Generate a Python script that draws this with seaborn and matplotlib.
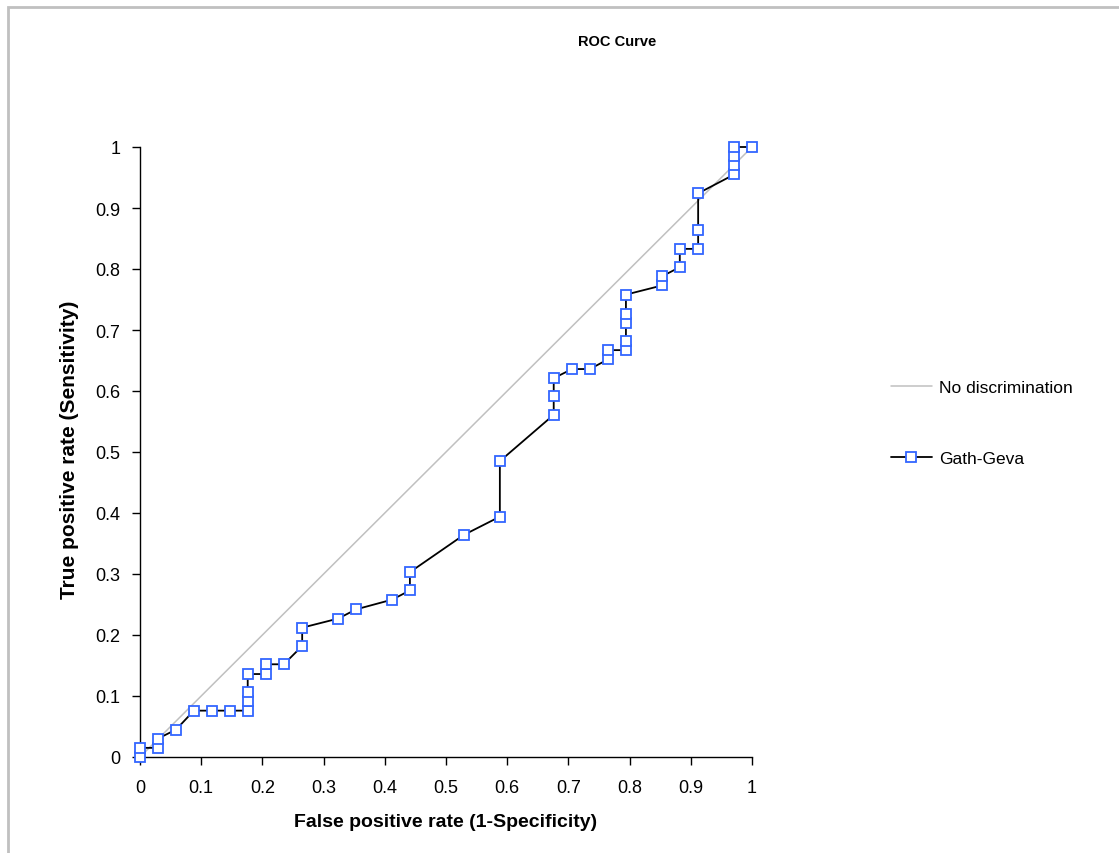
import matplotlib
matplotlib.use("Agg")
import matplotlib.pyplot as plt
import seaborn as sns
import pandas as pd
from matplotlib.lines import Line2D
from matplotlib.patches import Rectangle

# ROC points
fpr = [0.0, 0.0, 0.029, 0.029, 0.059, 0.088, 0.118, 0.147, 0.176, 0.176,
       0.176, 0.176, 0.206, 0.206, 0.235, 0.265, 0.265, 0.324, 0.353, 0.412,
       0.441, 0.441, 0.529, 0.588, 0.588, 0.676, 0.676, 0.676, 0.706, 0.735,
       0.765, 0.765, 0.794, 0.794, 0.794, 0.794, 0.794, 0.853, 0.853, 0.882,
       0.882, 0.912, 0.912, 0.912, 0.971, 0.971, 0.971, 0.971, 1.0]
tpr = [0.0, 0.015, 0.015, 0.030, 0.045, 0.076, 0.076, 0.076, 0.076, 0.091,
       0.106, 0.136, 0.136, 0.152, 0.152, 0.182, 0.212, 0.227, 0.242, 0.258,
       0.273, 0.303, 0.364, 0.394, 0.485, 0.561, 0.591, 0.621, 0.636, 0.636,
       0.652, 0.667, 0.667, 0.682, 0.712, 0.727, 0.758, 0.773, 0.788, 0.803,
       0.833, 0.833, 0.864, 0.924, 0.955, 0.970, 0.985, 1.0, 1.0]
diag = [0.0, 1.0]
ticks = [0, 0.1, 0.2, 0.3, 0.4, 0.5, 0.6, 0.7, 0.8, 0.9, 1]
tick_labels = ["0", "0.1", "0.2", "0.3", "0.4", "0.5", "0.6", "0.7", "0.8", "0.9", "1"]

sns.set_style("white")
plt.rcParams["font.family"] = ["Liberation Sans", "DejaVu Sans"]
plt.rcParams["text.color"] = "black"
plt.rcParams["axes.labelcolor"] = "black"
plt.rcParams["xtick.color"] = "black"
plt.rcParams["ytick.color"] = "black"

df = pd.DataFrame({"fpr": fpr, "tpr": tpr})

fig = plt.figure(figsize=(11.19, 8.54), dpi=100)
ax = fig.add_axes([140 / 1119, 1 - 758 / 854, 612 / 1119, 610 / 854])

# diagonal reference line
sns.lineplot(x=diag, y=diag, ax=ax, color="#c0c0c0", linewidth=1.1)

# ROC curve (no aggregation of repeated x values)
sns.lineplot(data=df, x="fpr", y="tpr", ax=ax, sort=False, estimator=None,
             color="black", linewidth=1.3, marker="s", markersize=6.5,
             markerfacecolor="white", markeredgecolor="#3366ff",
             markeredgewidth=1.3, clip_on=False, zorder=3)

ax.set_xlim(0, 1)
ax.set_ylim(0, 1)
ax.set_xticks(ticks)
ax.set_xticklabels(tick_labels)
ax.set_yticks(ticks)
ax.set_yticklabels(tick_labels)
ax.tick_params(axis="both", direction="out", length=6, width=1, color="black",
               labelsize=13, left=True, bottom=True)
ax.tick_params(axis="x", pad=10)
ax.tick_params(axis="y", pad=8)
for s in ["top", "right"]:
    ax.spines[s].set_visible(False)
for s in ["left", "bottom"]:
    ax.spines[s].set_color("black")
    ax.spines[s].set_linewidth(1)

ax.set_xlabel("False positive rate (1-Specificity)", fontsize=14,
              fontweight="bold", labelpad=12)
ax.set_ylabel("True positive rate (Sensitivity)", fontsize=15,
              fontweight="bold", labelpad=9)
ax.yaxis.set_label_coords(-0.1, 0.505)
fig.text(617 / 1119, 1 - 42 / 854, "ROC Curve", ha="center", va="center",
         fontsize=10.5, fontweight="bold")

# legend on the right
handles = [
    Line2D([], [], color="#c0c0c0", linewidth=1.1),
    Line2D([], [], color="black", linewidth=1.3, marker="s", markersize=6.5,
           markerfacecolor="white", markeredgecolor="#3366ff",
           markeredgewidth=1.3),
]
fig.legend(handles, ["No discrimination", "Gath-Geva"], loc="center left",
           bbox_to_anchor=(875 / 1119, 1 - 424 / 854), frameon=False,
           fontsize=12.5, labelspacing=3.2, handlelength=2.4,
           handletextpad=0.4)

# grey frame round the chart area
fig.patches.append(Rectangle((8 / 1119, -0.1), 1.2, 1 - 8 / 854 + 0.1,
                             transform=fig.transFigure, fill=False,
                             edgecolor="#c0c0c0", linewidth=2))

fig.savefig("out.png", dpi=100)
